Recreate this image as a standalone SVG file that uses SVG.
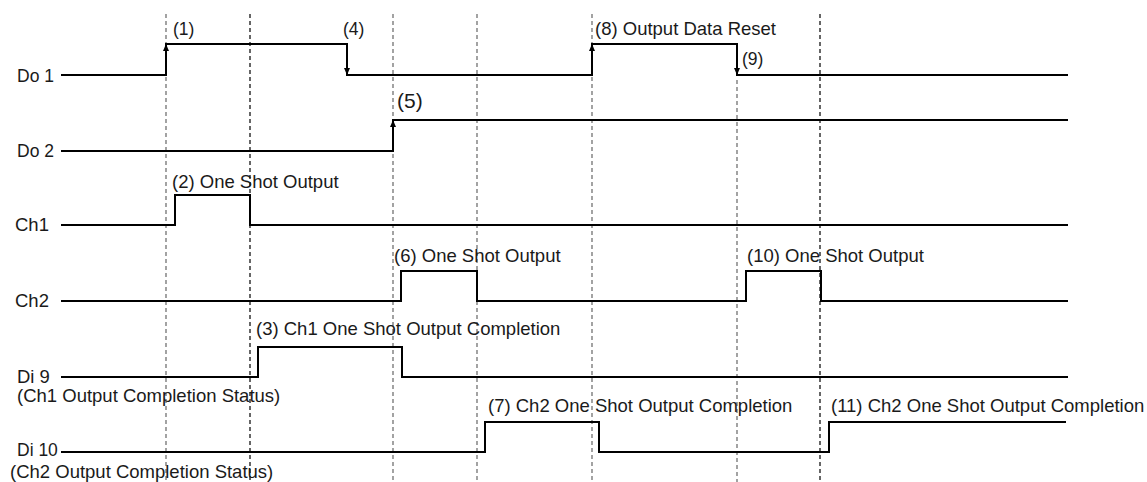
<svg xmlns="http://www.w3.org/2000/svg" width="1147" height="482" viewBox="0 0 1147 482">
<style>
text{font-family:"Liberation Sans",Arial,Helvetica,sans-serif;font-size:18.5px;fill:#1a1a1a}
.sm{font-size:17.5px}
.lg{font-size:21px}
.lb{font-size:17.5px}
.sig{fill:none;stroke:#000;stroke-width:2}
.grid{stroke:#666;stroke-width:1.2;stroke-dasharray:4 3;fill:none}
.gridk{stroke:#000;stroke-width:1.2;stroke-dasharray:4 3;fill:none}
.ah{fill:#000}
</style>
<defs>
<path id="up" d="M0 0 L-3 7 L3 7 Z"/>
<path id="dn" d="M0 0 L-3 -7 L3 -7 Z"/>
</defs>
<g id="connectors">
<line class="grid" x1="166" y1="14" x2="166" y2="482"/>
<line class="gridk" x1="250" y1="14" x2="250" y2="482"/>
<line class="grid" x1="393" y1="14" x2="393" y2="482"/>
<line class="grid" x1="477" y1="14" x2="477" y2="482"/>
<line class="grid" x1="592" y1="14" x2="592" y2="482"/>
<line class="grid" x1="737" y1="80" x2="737" y2="482"/>
<line class="gridk" x1="820" y1="14" x2="820" y2="482"/>
</g>
<g id="do1">
<text class="lb" x="17" y="82">Do 1</text>
<polyline class="sig" points="61,75 166,75 166,44 347,44 347,75 592,75 592,44 737,44 737,75 1068,75"/>
<use href="#up" class="ah" x="166" y="44"/>
<use href="#dn" class="ah" x="347" y="75"/>
<use href="#up" class="ah" x="592" y="44"/>
<use href="#dn" class="ah" x="737" y="75"/>
<text class="sm" x="173" y="35">(1)</text>
<text class="sm" x="343" y="35">(4)</text>
<text x="595" y="35">(8) Output Data Reset</text>
<text class="sm" x="742" y="65">(9)</text>
</g>
<g id="do2">
<text class="lb" x="17" y="157">Do 2</text>
<polyline class="sig" points="61,151 393,151 393,120 1068,120"/>
<use href="#up" class="ah" x="393" y="120"/>
<text class="lg" x="397" y="108">(5)</text>
</g>
<g id="ch1">
<text x="15" y="231">Ch1</text>
<polyline class="sig" points="61,225 175,225 175,195 250,195 250,225 1068,225"/>
<text x="172" y="188">(2) One Shot Output</text>
</g>
<g id="ch2">
<text x="15" y="307">Ch2</text>
<polyline class="sig" points="61,301 401,301 401,271 477,271 477,301 746,301 746,271 821,271 821,301 1068,301"/>
<text x="394" y="262">(6) One Shot Output</text>
<text x="747" y="262">(10) One Shot Output</text>
</g>
<g id="di9">
<text x="17" y="383">Di 9</text>
<text x="17" y="402">(Ch1 Output Completion Status)</text>
<polyline class="sig" points="61,377 258,377 258,347 402,347 402,377 1068,377"/>
<text x="256" y="335">(3) Ch1 One Shot Output Completion</text>
</g>
<g id="di10">
<text class="lb" x="17" y="456">Di 10</text>
<text x="10" y="478">(Ch2 Output Completion Status)</text>
<polyline class="sig" points="61,452 485,452 485,422 599,422 599,452 829,452 829,422 1066,422"/>
<text x="488" y="412">(7) Ch2 One Shot Output Completion</text>
<text x="831" y="412">(11) Ch2 One Shot Output Completion</text>
</g>
</svg>
